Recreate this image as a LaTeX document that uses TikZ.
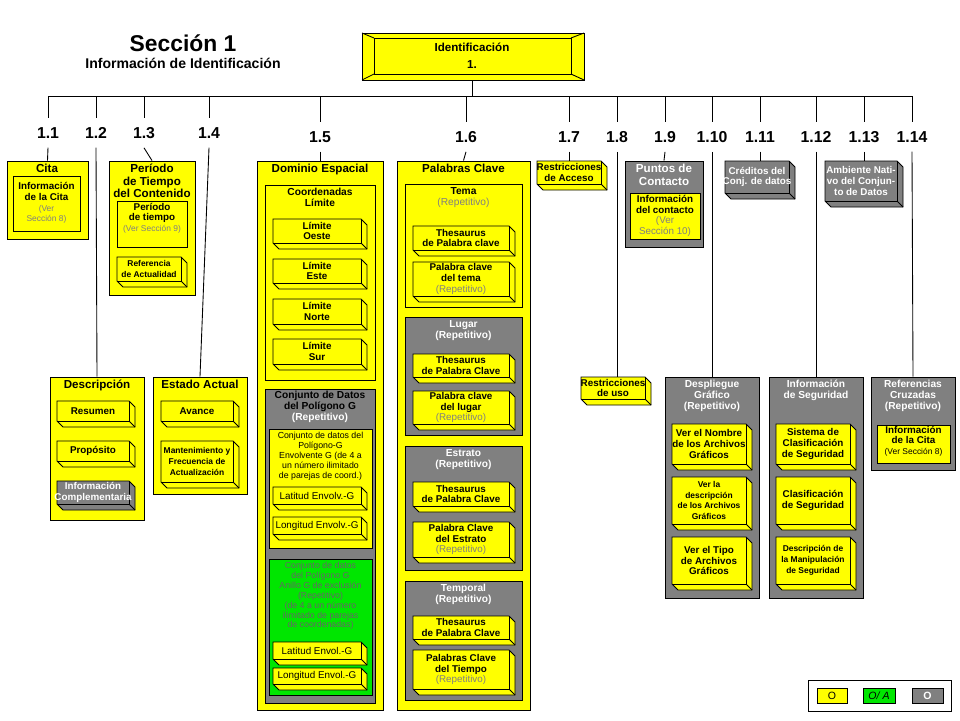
\documentclass[tikz,border=0pt]{standalone}
\usepackage{fontspec}
\setmainfont{Liberation Sans}
\usetikzlibrary{positioning,fit}

\definecolor{amarillo}{RGB}{255,255,0}
\definecolor{gris}{RGB}{128,128,128}
\definecolor{verde}{RGB}{0,230,0}

% texto gris para (Repetitivo) y similares
\newcommand{\rep}[1]{{\mdseries\color{gris}#1}}
% caja en relieve: [relleno] nombre x1 y1 x2 y2 texto
\newcommand{\cubo}[7][amarillo]{%
  \draw[fill=#1] (#3,#4) -- (#5-6,#4) -- (#5,#4+6) -- (#5,#6) -- (#3+6,#6) -- (#3,#6-6) -- cycle;
  \draw (#5-6,#4) -- (#5-6,#6-6) -- (#3,#6-6);
  \draw (#5-6,#6-6) -- (#5,#6);
  \node[txt] (#2) at ({(#3+#5-6)/2},{(#4+#6-6)/2}) {#7};}
% panel plano: [relleno] nombre x1 y1 x2 y2
\newcommand{\panel}[6][amarillo]{%
  \node[draw, fill=#1, inner sep=0pt, fit={(#3,#4) (#5,#6)}] (#2) {};}

\begin{document}
\begin{tikzpicture}[x=0.02cm, y=-0.02cm, line width=0.5pt,
  txt/.style={align=center, inner sep=0pt, font=\bfseries\fontsize{5.6}{6.1}\selectfont},
  ttl/.style={align=center, inner sep=0pt, anchor=north, font=\bfseries\fontsize{6.6}{7}\selectfont},
  num/.style={inner sep=0pt, font=\bfseries\fontsize{9}{10}\selectfont},
  blanco/.style={text=white}]
\useasboundingbox (0,0) rectangle (960,720);

% titulo
\node[font=\bfseries\fontsize{13}{14}\selectfont] (seccion) at (183,43) {Sección 1};
\node[font=\bfseries\fontsize{8}{9}\selectfont] (subtit) at (183,63) {Información de Identificación};

% caja raiz
\draw[fill=amarillo] (362,33) rectangle (584,80);
\draw (374,38) rectangle (571,74);
\draw (362,33) -- (374,38) (584,33) -- (571,38) (362,80) -- (374,74) (584,80) -- (571,74);
\node[align=center, inner sep=0pt, font=\bfseries\fontsize{6.6}{9.5}\selectfont] (ident) at (472,56) {Identificación\\1.};
\coordinate (raiz) at (472,80);
\coordinate (bus) at (472,96);
\draw (raiz) -- (bus);
\draw (48,96) -- (913,96);

% numeros de rama
\foreach \n/\x in {11/48,12/96,13/144,14/209,15/320,16/466,17/569,18/617,19/665,110/712,111/760,112/816,113/864,114/912}{
  \coordinate (b\n) at (\x,96);
}
\foreach \n/\x/\t/\y in {11/48/1.1/133,12/96/1.2/133,13/144/1.3/133,14/209/1.4/133,15/320/1.5/137,16/466/1.6/137,17/569/1.7/137,18/617/1.8/137,19/665/1.9/137,110/712/1.10/137,111/760/1.11/137,112/816/1.12/137,113/864/1.13/137,114/912/1.14/137}{
  \node[num] (n\n) at (\x,\y) {\t};
}

% 1.1 Cita
\panel{cita}{7}{161}{88}{239}
\node[ttl] at (47,164) {Cita};
\draw (13,176) rectangle (80,231);
\node[txt] (infocita) at (46.5,203) {Información\\de la Cita\\{\fontsize{4.8}{5.4}\selectfont\rep{(Ver}}\\{\fontsize{4.8}{5.4}\selectfont\rep{Sección 8)}}};

% 1.2 Descripcion
\panel{descr}{50}{377}{144}{520}
\node[ttl] at (97,380) {Descripción};
\cubo{resumen}{57}{401}{135}{427}{Resumen}
\cubo{proposito}{57}{441}{135}{467}{Propósito}
\cubo[gris]{infocomp}{57}{481}{135}{510}{\color{white}Información\\\color{white}Complementaria}

% 1.3 Periodo
\panel{periodo}{109}{161}{195}{295}
\node[ttl] at (152,164) {Período\\de Tiempo\\del Contenido};
\draw (117,201) rectangle (187,247);
\node[txt] (pertiempo) at (152,218) {Período\\de tiempo\\{\fontsize{4.8}{5.4}\selectfont\rep{(Ver Sección 9)}}};
\cubo{refact}{117}{257}{187}{287}{\fontsize{4.8}{5.4}\selectfont Referencia\\\fontsize{4.8}{5.4}\selectfont de Actualidad}

% 1.4 Estado actual
\panel{estado}{153}{377}{247}{494}
\node[ttl] at (200,380) {Estado Actual};
\cubo{avance}{161}{401}{239}{427}{Avance}
\cubo{mant}{161}{441}{239}{488}{\fontsize{4.8}{5.4}\selectfont Mantenimiento y\\\fontsize{4.8}{5.4}\selectfont Frecuencia de\\\fontsize{4.8}{5.4}\selectfont Actualización}

% 1.5 Dominio espacial
\panel{dominio}{257}{161}{383}{710}
\node[ttl] at (320,164) {Dominio Espacial};
\panel{coord}{265}{185}{375}{380}
\node[ttl, font=\bfseries\fontsize{5.8}{6.2}\selectfont] at (320,188) {Coordenadas\\Límite};
\cubo{oeste}{273}{219}{367}{249}{Límite\\Oeste}
\cubo{este}{273}{259}{367}{289}{Límite\\Este}
\cubo{norte}{273}{299}{367}{330}{Límite\\Norte}
\cubo{sur}{273}{339}{367}{370}{Límite\\Sur}
\panel[gris]{poligono}{265}{389}{375}{703}
\node[ttl, font=\bfseries\fontsize{5.8}{6.2}\selectfont] at (320,391) {Conjunto de Datos\\del Polígono G\\\color{white}(Repetitivo)};
\panel{envolv}{269}{429}{372}{548}
\node[ttl, font=\fontsize{5}{5.6}\selectfont] at (320.5,432) {Conjunto de datos del\\Polígono-G\\Envolvente G (de 4 a\\un número ilimitado\\de parejas de coord.)};
\cubo{latenv}{273}{487}{367}{510}{\mdseries Latitud Envolv.-G}
\cubo{lonenv}{273}{517}{367}{540}{\mdseries Longitud Envolv.-G}
\panel[verde]{anillo}{269}{559}{372}{695}
\node[ttl, text=black!60, font=\fontsize{5}{5.6}\selectfont] at (320.5,562) {Conjunto de datos\\del Polígono G\\Anillo G de exclusión\\(Repetitivo)\\(de 4 a un número\\ilimitado de parejas\\de coordenadas)};
\cubo{latanillo}{273}{642}{367}{665}{\mdseries Latitud Envol.-G}
\cubo{lonanillo}{273}{668}{367}{690}{\mdseries Longitud Envol.-G}

% 1.6 Palabras clave
\panel{palabras}{397}{161}{530}{710}
\node[ttl] at (463.5,164) {Palabras Clave};
\panel{tema}{405}{184}{522}{307}
\node[ttl, font=\bfseries\fontsize{5.8}{6.2}\selectfont] at (463.5,187) {Tema\\\rep{(Repetitivo)}};
\cubo{thtema}{413}{226}{515}{256}{Thesaurus\\de Palabra clave}
\cubo{pctema}{413}{262}{515}{302}{Palabra clave\\del tema\\\rep{(Repetitivo)}}
\panel[gris]{lugar}{405}{317}{522}{435}
\node[ttl, blanco, font=\bfseries\fontsize{5.8}{6.2}\selectfont] at (463.5,320) {Lugar\\(Repetitivo)};
\cubo{thlugar}{413}{354}{515}{383}{Thesaurus\\de Palabra Clave}
\cubo{pclugar}{413}{391}{515}{430}{Palabra clave\\del lugar\\\rep{(Repetitivo)}}
\panel[gris]{estrato}{405}{446}{522}{570}
\node[ttl, blanco, font=\bfseries\fontsize{5.8}{6.2}\selectfont] at (463.5,449) {Estrato\\(Repetitivo)};
\cubo{thestrato}{413}{482}{515}{512}{Thesaurus\\de Palabra Clave}
\cubo{pcestrato}{413}{522}{515}{563}{Palabra Clave\\del Estrato\\\rep{(Repetitivo)}}
\panel[gris]{temporal}{405}{581}{522}{700}
\node[ttl, blanco, font=\bfseries\fontsize{5.8}{6.2}\selectfont] at (463.5,584) {Temporal\\(Repetitivo)};
\cubo{thtemp}{413}{616}{515}{645}{Thesaurus\\de Palabra Clave}
\cubo{pctemp}{413}{650}{515}{695}{Palabras Clave\\del Tiempo\\\rep{(Repetitivo)}}

% 1.7 a 1.14
\cubo{acceso}{537}{161}{607}{190}{Restricciones\\de Acceso}
\coordinate (acceso top) at (569,161);
\cubo{uso}{581}{377}{651}{405}{Restricciones\\de uso}
\coordinate (uso top) at (617,377);
\panel[gris]{contacto}{625}{161}{703}{247}
\node[ttl, blanco] at (664,164) {Puntos de\\Contacto};
\panel{infocont}{630}{193}{700}{239}
\node[txt] (infocontacto) at (665,216) {Información\\del contacto\\\rep{(Ver}\\\rep{Sección 10)}};
\panel[gris]{despliegue}{665}{377}{759}{598}
\node[ttl, blanco, font=\bfseries\fontsize{5.8}{6.2}\selectfont] at (712,380) {Despliegue\\Gráfico\\(Repetitivo)};
\cubo{nombrearch}{672}{424}{752}{470}{Ver el Nombre\\de los Archivos\\Gráficos}
\cubo{descarch}{672}{477}{752}{530}{\fontsize{4.8}{5.4}\selectfont Ver la\\\fontsize{4.8}{5.4}\selectfont descripción\\\fontsize{4.8}{5.4}\selectfont de los Archivos\\\fontsize{4.8}{5.4}\selectfont Gráficos}
\cubo{tipoarch}{672}{537}{752}{590}{Ver el Tipo\\de Archivos\\Gráficos}
\cubo[gris]{creditos}{725}{161}{795}{199}{\color{white}Créditos del\\\color{white}Conj. de datos}
\coordinate (creditos top) at (760,161);
\panel[gris]{seguridad}{769}{377}{863}{598}
\node[ttl, blanco, font=\bfseries\fontsize{5.8}{6.2}\selectfont] at (816,380) {Información\\de Seguridad};
\cubo{sistclas}{776}{424}{856}{470}{Sistema de\\Clasificación\\de Seguridad}
\cubo{clasif}{776}{477}{856}{530}{Clasificación\\de Seguridad}
\cubo{manip}{776}{537}{856}{590}{\fontsize{4.8}{5.4}\selectfont Descripción de\\\fontsize{4.8}{5.4}\selectfont la Manipulación\\\fontsize{4.8}{5.4}\selectfont de Seguridad}
\cubo[gris]{ambiente}{825}{161}{903}{207}{\color{white}Ambiente Nati-\\\color{white}vo del Conjun-\\\color{white}to de Datos}
\coordinate (ambiente top) at (864,161);
\panel[gris]{referencias}{871}{377}{955}{470}
\node[ttl, blanco, font=\bfseries\fontsize{5.8}{6.2}\selectfont] at (913,380) {Referencias\\Cruzadas\\(Repetitivo)};
\panel{refcita}{877}{425}{950}{463}
\node[txt] (refinfo) at (913.5,441) {Información\\de la Cita\\{\fontsize{4.8}{5.4}\selectfont\mdseries (Ver Sección 8)}};

% conectores
\foreach \n in {11,12,13,14,15,16,17,18,19,110,111,112,113,114}{
  \draw (b\n) -- ([yshift=5pt]n\n.north);
}
\draw ([yshift=-5pt]n11.south) -- (cita.north);
\draw ([yshift=-5pt]n12.south) -- (descr.north);
\draw ([yshift=-5pt]n13.south) -- (periodo.north);
\draw ([yshift=-5pt]n14.south) -- (estado.north);
\draw ([yshift=-5pt]n15.south) -- (dominio.north);
\draw ([yshift=-5pt]n16.south) -- (palabras.north);
\draw ([yshift=-5pt]n17.south) -- (acceso top);
\draw ([yshift=-5pt]n18.south) -- (uso top);
\draw ([yshift=-5pt]n19.south) -- (contacto.north);
\draw ([yshift=-5pt]n110.south) -- (despliegue.north);
\draw ([yshift=-5pt]n111.south) -- (creditos top);
\draw ([yshift=-5pt]n112.south) -- (seguridad.north);
\draw ([yshift=-5pt]n113.south) -- (ambiente top);
\draw ([yshift=-5pt]n114.south) -- (referencias.north);

% leyenda
\draw (808,680) rectangle (951,711);
\node[draw, fill=amarillo, minimum width=0.6cm, minimum height=0.3cm, inner sep=0pt, font=\fontsize{6}{6}\selectfont] (leg1) at (832,695.5) {O};
\node[draw, fill=verde, minimum width=0.64cm, minimum height=0.3cm, inner sep=0pt, font=\itshape\fontsize{6}{6}\selectfont] (leg2) at (879,695.5) {O/ A};
\node[draw, fill=gris, text=white, minimum width=0.62cm, minimum height=0.3cm, inner sep=0pt, font=\bfseries\fontsize{6}{6}\selectfont] (leg3) at (927.5,695.5) {O};
\end{tikzpicture}
\end{document}
